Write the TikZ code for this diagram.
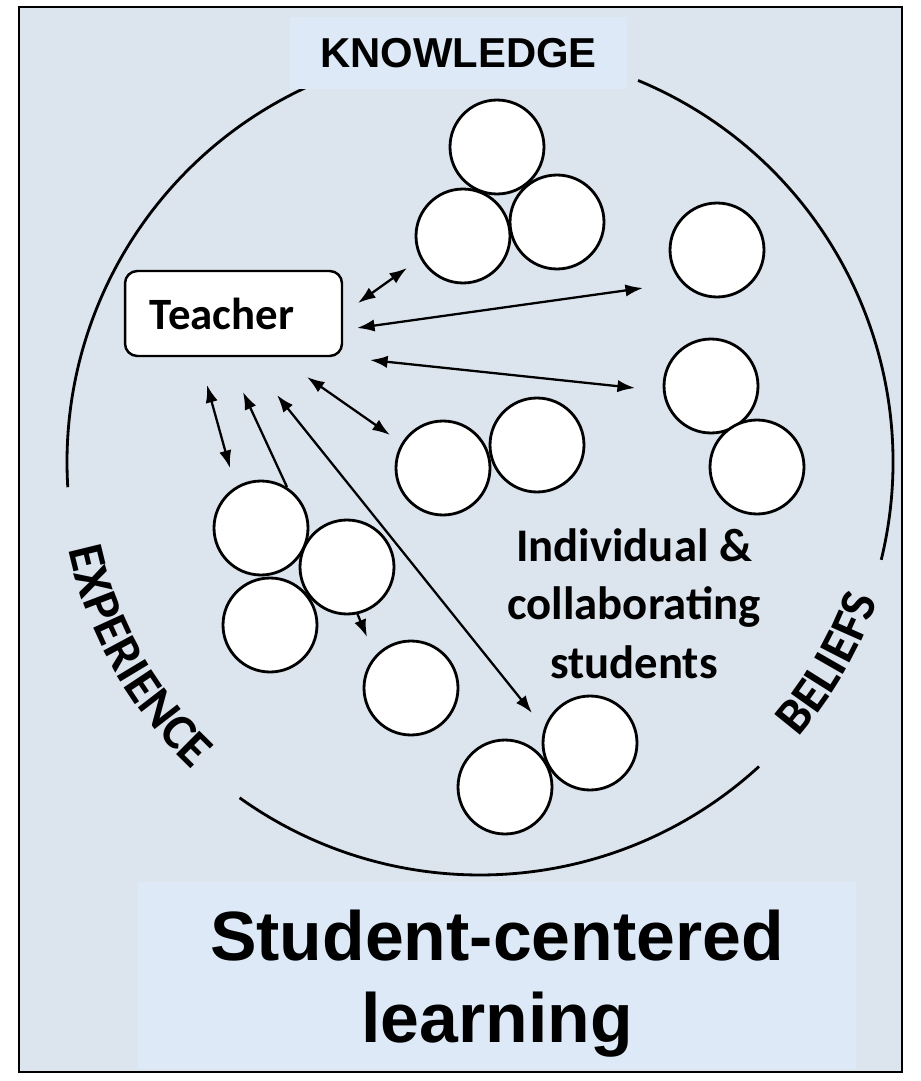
\documentclass[tikz,border=0pt]{standalone}
\usepackage{fontspec}
\usepackage{tikz}
\usetikzlibrary{arrows.meta,decorations.text}
\newfontfamily\arialfont{Liberation Sans}
\newfontfamily\calibrifont{Carlito}
\definecolor{panel}{RGB}{220,228,238}
\definecolor{labelbg}{RGB}{221,233,246}
\newcommand\ringfont{\calibrifont\bfseries\fontsize{28.9pt}{32pt}\selectfont}
\tikzset{
  >={Latex[length=10pt,width=7pt]},
  pupil/.style={circle,draw,fill=white,line width=1.6pt,inner sep=0pt,minimum size=1.88cm},
  link/.style={<->,line width=1.3pt},
  ring/.style={line width=1.6pt},
  labelbox/.style={fill=labelbg,inner sep=0pt},
  teacherbox/.style={draw,fill=white,rounded corners=7pt,line width=1.4pt,
    minimum width=4.34cm,minimum height=1.7cm,inner sep=0pt,
    font=\calibrifont\bfseries\fontsize{25.5pt}{28pt}\selectfont}
}
\begin{document}
\begin{tikzpicture}[x=0.02cm,y=0.02cm]
  \useasboundingbox (0,0) rectangle (920,-1081);
  \fill[white] (0,0) rectangle (920,-1081);
  \draw[fill=panel,line width=1.4pt] (19,-7) rectangle (902,-1072);
  \coordinate (O) at (480,-462);
  % ring round the class
  \draw[ring] (O) ++(67.5:413) arc[start angle=67.5,end angle=-13.7,radius=413];
  \draw[ring] (O) ++(114.3:413) arc[start angle=114.3,end angle=183.5,radius=413];
  \draw[ring] (O) ++(234.4:413) arc[start angle=234.4,end angle=312.5,radius=413];
  \path[decorate,decoration={text along path,text={|\ringfont|EXPERIENCE},text align=center}]
    (O) ++(184:421) arc[start angle=184,end angle=235,radius=421];
  \path[decorate,decoration={text along path,text={|\ringfont|BELIEFS},text align=center}]
    (O) ++(-50:421) arc[start angle=-50,end angle=-10,radius=421];
  \node[labelbox,minimum width=6.74cm,minimum height=1.44cm,
    font=\arialfont\bfseries\fontsize{23.8pt}{26pt}\selectfont] (knowledge) at (458.5,-53) {KNOWLEDGE};
  % arrow ends
  \foreach \n/\x/\y in {tA/358/303,gA/407/268,tB/357/328,gB/643/288,tC/370/360,gC/635/388,
      tD/307/377,gD/390/435,tE/207/385,gE/230/468,tF/243/392,gF/287/487,tG/277/395,gG/532/713,
      lH/355/608,sH/367/637}
    \coordinate (\n) at (\x,-\y);
  \draw[link] (tA) -- (gA);
  \draw[link] (tB) -- (gB);
  \draw[link] (tC) -- (gC);
  \draw[link] (tD) -- (gD);
  \draw[link] (tE) -- (gE);
  \draw[link,<-] (tF) -- (gF);
  \draw[link] (tG) -- (gG);
  \draw[link,->] (lH) -- (sH);
  % students
  \foreach \n/\x/\y in {k1/497/147,k2/463/236,k3/557/222,r1/717/250,r2/711/386,r3/757/467,
      m1/443/468,m2/537/445,l1/261/528,l2/347/567,l3/270/625,s1/411/688,b1/505/787,b2/590/743}
    \node[pupil] (\n) at (\x,-\y) {};
  \node[teacherbox] (teacher) at (233.5,-313.5) {Teacher\hspace*{13pt}};
  \node[align=center,font=\calibrifont\bfseries\fontsize{26.6pt}{33.2pt}\selectfont]
    (students) at (634,-603.5) {Individual \&\\collaborating\\students};
  \node[labelbox,minimum width=14.36cm,minimum height=3.74cm] (titlebg) at (497,-975.5) {};
  \node[align=center,font=\arialfont\bfseries\fontsize{39.7pt}{47pt}\selectfont]
    (title) at (497,-983.5) {Student-centered\\learning};
\end{tikzpicture}
\end{document}
